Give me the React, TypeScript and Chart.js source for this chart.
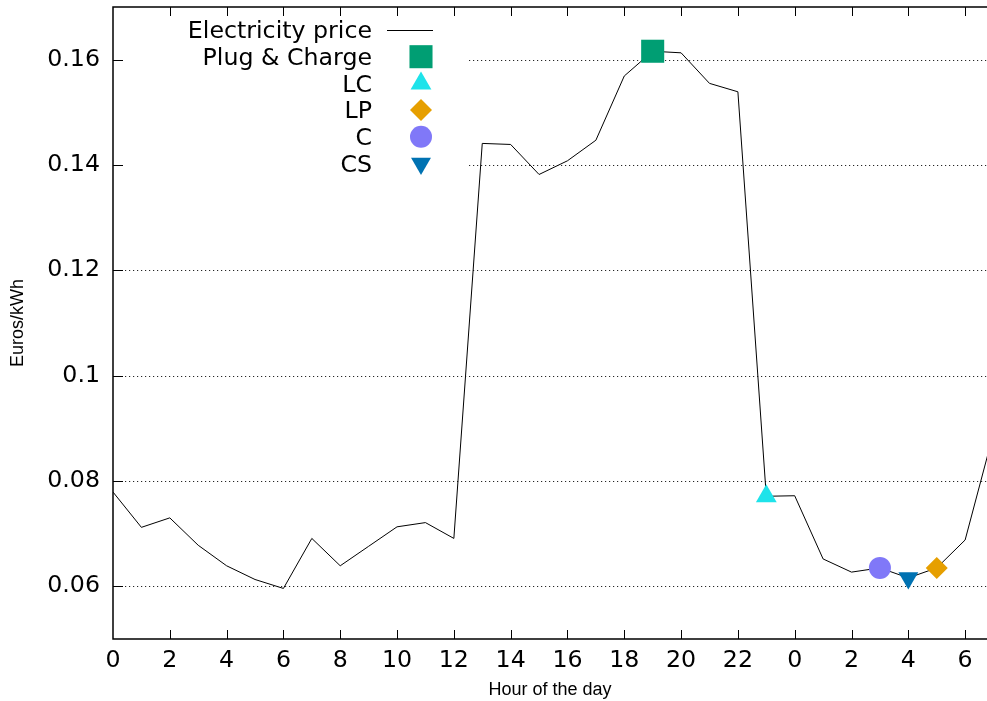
import React, { useEffect, useRef } from 'react';
import { Chart, registerables } from 'chart.js';
import { drawPoint } from 'chart.js/helpers';

Chart.register(...registerables);

// ---- data ----
const HOURS = [0, 1, 2, 3, 4, 5, 6, 7, 8, 9, 10, 11, 12, 13, 14, 15, 16, 17, 18, 19, 20, 21, 22, 23, 24, 25, 26, 27, 28, 29, 30, 31];
const PRICE = [
  0.0779, 0.0712, 0.0730, 0.0678, 0.0639, 0.0613, 0.0596, 0.0691, 0.0639, 0.0676, 0.0713, 0.0721,
  0.0691, 0.1441, 0.1439, 0.1382, 0.1408, 0.1447, 0.1569, 0.1616, 0.1613, 0.1555, 0.1539, 0.0771,
  0.0772, 0.0652, 0.0627, 0.0635, 0.0616, 0.0635, 0.0688, 0.0891,
];
const LINE_LABEL = 'Electricity price';
const MARKER_LABELS = ['Plug & Charge', 'LC', 'LP', 'C', 'CS'];
const MARKER_HOURS = [19, 23, 29, 27, 28];
const MARKER_PRICES = [0.1616, 0.0771, 0.0635, 0.0635, 0.0616];
const X_TICKS = [0, 2, 4, 6, 8, 10, 12, 14, 16, 18, 20, 22, 24, 26, 28, 30];
const Y_TICKS = [0.06, 0.08, 0.1, 0.12, 0.14, 0.16];

// ---- styles ----
const MARKER_COLORS = ['#009e73', '#1ee3ea', '#e69f00', '#8078f8', '#0072b2'];
const MARKER_STYLES = ['rect', 'triangle', 'rectRot', 'circle', 'triangle'];
const MARKER_ROTATIONS = [0, 0, 0, 0, 180];
const MARKER_RADII = [16.3, 12, 11, 11, 11.5];

const BIG = 23.7;
const TICK_FONT = { family: '"DejaVu Sans"', size: BIG };
const TITLE_FONT = { family: '"Liberation Sans"', size: 18 };

const zeroPad = (s: any) => {
  s.paddingTop = 0;
  s.paddingBottom = 0;
  s.paddingLeft = 0;
  s.paddingRight = 0;
};

const framePlugin = {
  id: 'gnuFrame',
  beforeDatasetsDraw(chart: any) {
    const { ctx, chartArea } = chart;
    const y = chart.scales.y;
    ctx.save();
    ctx.strokeStyle = 'rgba(0,0,0,0.85)';
    ctx.lineWidth = 1;
    ctx.setLineDash([1.2, 2.8]);
    Y_TICKS.forEach((v) => {
      const py = Math.round(y.getPixelForValue(v)) + 0.5;
      ctx.beginPath();
      ctx.moveTo(chartArea.left, py);
      ctx.lineTo(chartArea.right, py);
      ctx.stroke();
    });
    ctx.restore();
  },
  afterDatasetsDraw(chart: any) {
    const { ctx, chartArea } = chart;
    const xs = chart.scales.x;
    const ys = chart.scales.y;
    const { left, right, top, bottom } = chartArea;
    ctx.save();
    // opaque legend box
    ctx.fillStyle = '#ffffff';
    ctx.fillRect(left + 1, 17, 469 - left - 1, 161);
    // legend entries
    const labels = [LINE_LABEL, ...MARKER_LABELS];
    labels.forEach((lab, i) => {
      const ry = 30 + i * 26.7;
      ctx.font = BIG + 'px "DejaVu Sans"';
      ctx.textAlign = 'right';
      ctx.textBaseline = 'alphabetic';
      ctx.fillStyle = '#000';
      ctx.fillText(lab, 372, ry + 8.3);
      if (i === 0) {
        ctx.strokeStyle = '#000';
        ctx.lineWidth = 1;
        ctx.beginPath();
        ctx.moveTo(387, Math.round(ry) + 0.5);
        ctx.lineTo(433, Math.round(ry) + 0.5);
        ctx.stroke();
      } else {
        const k = i - 1;
        ctx.fillStyle = MARKER_COLORS[k];
        drawPoint(
          ctx,
          { pointStyle: MARKER_STYLES[k], radius: MARKER_RADII[k], rotation: MARKER_ROTATIONS[k], borderWidth: 0 } as any,
          421,
          ry
        );
      }
    });
    // border
    ctx.strokeStyle = '#000';
    ctx.lineWidth = 1.5;
    ctx.beginPath();
    ctx.moveTo(right + 2, top);
    ctx.lineTo(left, top);
    ctx.lineTo(left, bottom);
    ctx.lineTo(right + 2, bottom);
    ctx.stroke();
    // inward ticks
    ctx.lineWidth = 1;
    ctx.beginPath();
    X_TICKS.forEach((v) => {
      const px = Math.round(xs.getPixelForValue(v)) + 0.5;
      if (px <= left + 1) return;
      ctx.moveTo(px, bottom);
      ctx.lineTo(px, bottom - 9);
      ctx.moveTo(px, top);
      ctx.lineTo(px, top + 9);
    });
    Y_TICKS.forEach((v) => {
      const py = Math.round(ys.getPixelForValue(v)) + 0.5;
      ctx.moveTo(left, py);
      ctx.lineTo(left + 10, py);
    });
    ctx.stroke();
    ctx.restore();
  },
};

export default function App() {
  const ref = useRef<HTMLCanvasElement | null>(null);

  useEffect(() => {
    document.body.style.margin = '0';
    const canvas = ref.current;
    if (!canvas) return;

    const lineData = HOURS.map((h, i) => ({ x: h, y: PRICE[i] }));
    const markerSets = MARKER_LABELS.map((lab, k) => ({
      type: 'scatter' as const,
      label: lab,
      data: [{ x: MARKER_HOURS[k], y: MARKER_PRICES[k] }],
      showLine: false,
      pointStyle: MARKER_STYLES[k],
      pointRadius: MARKER_RADII[k],
      pointRotation: MARKER_ROTATIONS[k],
      pointBackgroundColor: MARKER_COLORS[k],
      pointBorderWidth: 0,
      order: 0,
    }));

    const chart = new Chart(canvas, {
      type: 'line',
      data: {
        datasets: [
          {
            type: 'line',
            label: LINE_LABEL,
            data: lineData,
            borderColor: '#000',
            borderWidth: 1,
            pointRadius: 0,
            tension: 0,
            fill: false,
            order: 10,
          } as any,
          ...(markerSets as any[]),
        ],
      },
      options: {
        responsive: false,
        animation: false,
        events: [],
        layout: { autoPadding: false, padding: { top: 7, right: 0, left: 0, bottom: 0 } },
        plugins: { legend: { display: false }, tooltip: { enabled: false } },
        scales: {
          x: {
            type: 'linear',
            min: 0,
            max: 30.77,
            afterBuildTicks: (s: any) => {
              s.ticks = X_TICKS.map((v) => ({ value: v }));
            },
            afterFit: (s: any) => {
              s.height = 62;
              zeroPad(s);
            },
            ticks: {
              callback: (v: any) => String(Number(v) % 24),
              font: TICK_FONT,
              color: '#000',
              padding: 8,
              maxRotation: 0,
              autoSkip: false,
            },
            grid: { display: false, drawTicks: false, tickLength: 0 },
            border: { display: false },
            title: {
              display: true,
              text: 'Hour of the day',
              font: TITLE_FONT,
              color: '#000',
              padding: { top: 0, bottom: 0 },
            },
          },
          y: {
            type: 'linear',
            min: 0.05,
            max: 0.17,
            afterBuildTicks: (s: any) => {
              s.ticks = Y_TICKS.map((v) => ({ value: v }));
            },
            afterFit: (s: any) => {
              s.width = 113;
              zeroPad(s);
            },
            ticks: {
              callback: (v: any) => String(Number(Number(v).toFixed(2))),
              font: TICK_FONT,
              color: '#000',
              padding: 13,
              autoSkip: false,
            },
            grid: { display: false, drawTicks: false, tickLength: 0 },
            border: { display: false },
            title: {
              display: true,
              text: 'Euros/kWh',
              font: TITLE_FONT,
              color: '#000',
              padding: { top: 7, bottom: 0 },
            },
          },
        },
      },
      plugins: [framePlugin],
    });

    return () => chart.destroy();
  }, []);

  return (
    <div style={{ width: 987, height: 701 }}>
      <canvas ref={ref} width={987} height={701} style={{ display: 'block' }} />
    </div>
  );
}
